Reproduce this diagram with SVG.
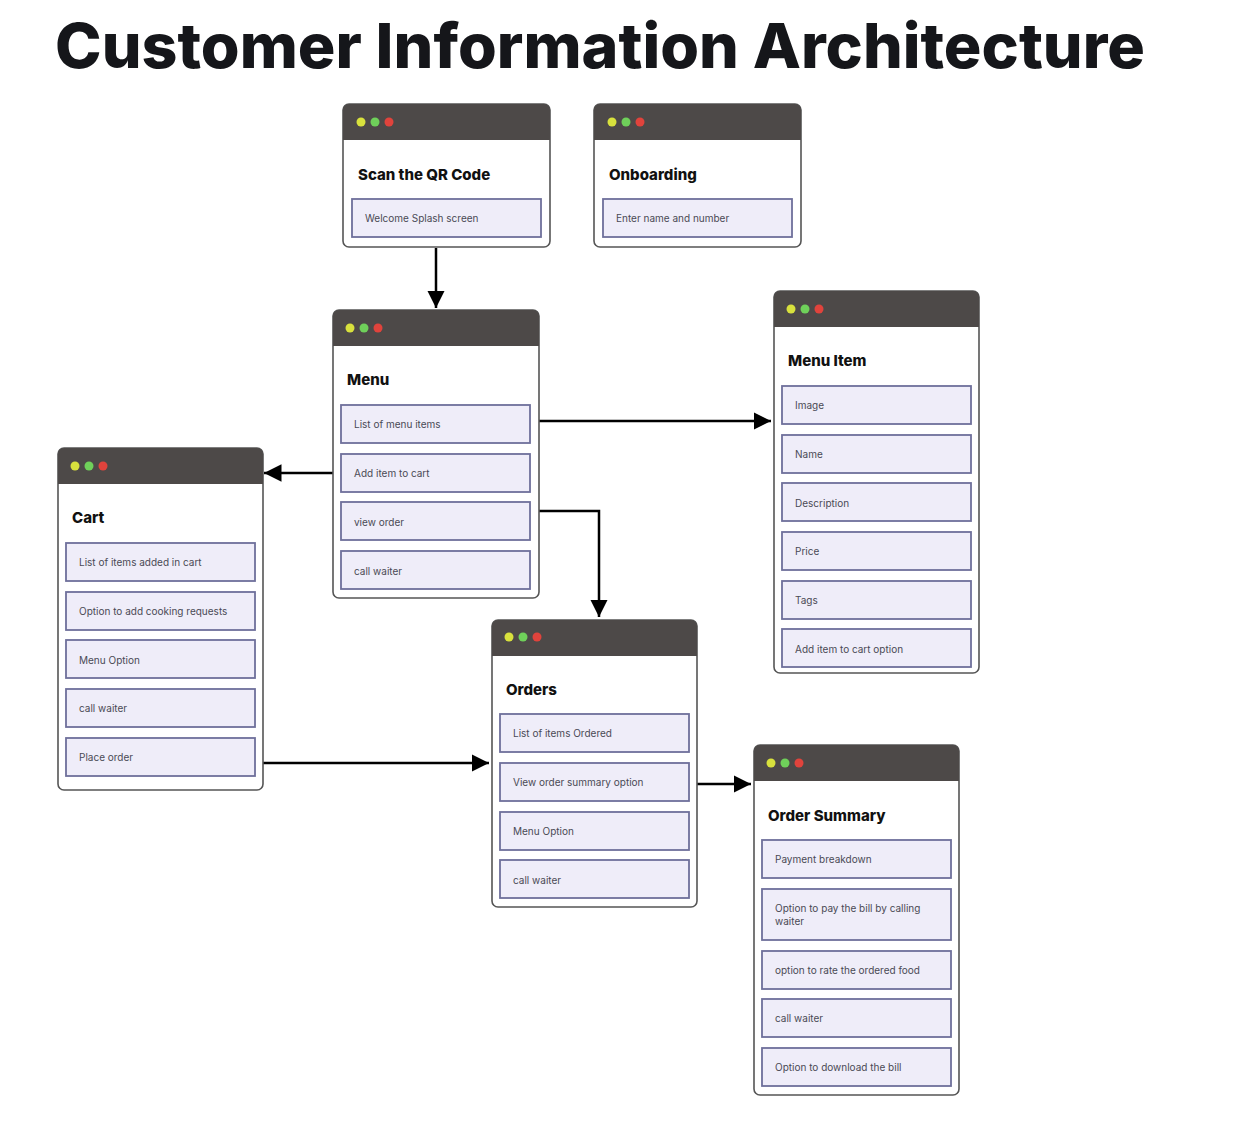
<svg xmlns="http://www.w3.org/2000/svg" width="1238" height="1132" viewBox="0 0 1238 1132">
<defs>
<style>
.win{fill:#fff;stroke:#555;stroke-width:1.6}
.hdr{fill:#4d4948}
.dy{fill:#d8e13d}.dg{fill:#6fd05a}.dr{fill:#e0433c}
.ttl{font-family:Inter,"Noto Sans",sans-serif;font-weight:800;font-size:15px;fill:#111}
.it{fill:#efedf9;stroke:#6e6f9b;stroke-width:1.8}
.itx{font-family:Inter,"Noto Sans",sans-serif;font-size:10px;fill:#4a4a55}
.cn{fill:none;stroke:#000;stroke-width:2.5}
</style>
<marker id="ah" viewBox="0 0 10 10" refX="10" refY="5" markerWidth="7" markerHeight="7" markerUnits="strokeWidth" orient="auto">
<path d="M0,0 L10,5 L0,10 z" fill="#000"/>
</marker>
</defs>
<rect width="1238" height="1132" fill="#fff"/>
<text x="55" y="68" font-family="Inter,'Noto Sans',sans-serif" font-weight="800" font-size="62" fill="#15161a" textLength="1090" lengthAdjust="spacingAndGlyphs">Customer Information Architecture</text>

<g id="connectors">
<path class="cn" d="M436,248 V308" marker-end="url(#ah)"/>
<path class="cn" d="M528,421 H771" marker-end="url(#ah)"/>
<path class="cn" d="M343,473 H264" marker-end="url(#ah)"/>
<path class="cn" d="M528,511 H599 V617" marker-end="url(#ah)"/>
<path class="cn" d="M255,763 H489" marker-end="url(#ah)"/>
<path class="cn" d="M689,784 H751" marker-end="url(#ah)"/>
</g>

<g id="scan-qr">
<rect class="win" x="343" y="104" width="207" height="143" rx="6"/>
<path class="hdr" d="M343,110 a6,6 0 0 1 6,-6 h195 a6,6 0 0 1 6,6 v30 h-207 z"/>
<circle class="dy" cx="361" cy="122" r="4.5"/><circle class="dg" cx="375" cy="122" r="4.5"/><circle class="dr" cx="389" cy="122" r="4.5"/>
<text class="ttl" x="358" y="180">Scan the QR Code</text>
<rect class="it" x="352" y="199" width="189" height="38"/>
<text class="itx" x="365" y="222">Welcome Splash screen</text>
</g>

<g id="onboarding">
<rect class="win" x="594" y="104" width="207" height="143" rx="6"/>
<path class="hdr" d="M594,110 a6,6 0 0 1 6,-6 h195 a6,6 0 0 1 6,6 v30 h-207 z"/>
<circle class="dy" cx="612" cy="122" r="4.5"/><circle class="dg" cx="626" cy="122" r="4.5"/><circle class="dr" cx="640" cy="122" r="4.5"/>
<text class="ttl" x="609" y="180">Onboarding</text>
<rect class="it" x="603" y="199" width="189" height="38"/>
<text class="itx" x="616" y="222">Enter name and number</text>
</g>

<g id="menu">
<rect class="win" x="333" y="310" width="206" height="288" rx="6"/>
<path class="hdr" d="M333,316 a6,6 0 0 1 6,-6 h194 a6,6 0 0 1 6,6 v30 h-206 z"/>
<circle class="dy" cx="350" cy="328" r="4.5"/><circle class="dg" cx="364" cy="328" r="4.5"/><circle class="dr" cx="378" cy="328" r="4.5"/>
<text class="ttl" x="347" y="385">Menu</text>
<rect class="it" x="341" y="405" width="189" height="38"/>
<text class="itx" x="354" y="428">List of menu items</text>
<rect class="it" x="341" y="454" width="189" height="38"/>
<text class="itx" x="354" y="477">Add item to cart</text>
<rect class="it" x="341" y="502" width="189" height="38"/>
<text class="itx" x="354" y="526">view order</text>
<rect class="it" x="341" y="551" width="189" height="38"/>
<text class="itx" x="354" y="575">call waiter</text>
</g>

<g id="menu-item">
<rect class="win" x="774" y="291" width="205" height="382" rx="6"/>
<path class="hdr" d="M774,297 a6,6 0 0 1 6,-6 h193 a6,6 0 0 1 6,6 v30 h-205 z"/>
<circle class="dy" cx="791" cy="309" r="4.5"/><circle class="dg" cx="805" cy="309" r="4.5"/><circle class="dr" cx="819" cy="309" r="4.5"/>
<text class="ttl" x="788" y="366">Menu Item</text>
<rect class="it" x="782" y="386" width="189" height="38"/>
<text class="itx" x="795" y="409">Image</text>
<rect class="it" x="782" y="435" width="189" height="38"/>
<text class="itx" x="795" y="458">Name</text>
<rect class="it" x="782" y="483" width="189" height="38"/>
<text class="itx" x="795" y="507">Description</text>
<rect class="it" x="782" y="532" width="189" height="38"/>
<text class="itx" x="795" y="555">Price</text>
<rect class="it" x="782" y="581" width="189" height="38"/>
<text class="itx" x="795" y="604">Tags</text>
<rect class="it" x="782" y="629" width="189" height="38"/>
<text class="itx" x="795" y="653">Add item to cart option</text>
</g>

<g id="cart">
<rect class="win" x="58" y="448" width="205" height="342" rx="6"/>
<path class="hdr" d="M58,454 a6,6 0 0 1 6,-6 h193 a6,6 0 0 1 6,6 v30 h-205 z"/>
<circle class="dy" cx="75" cy="466" r="4.5"/><circle class="dg" cx="89" cy="466" r="4.5"/><circle class="dr" cx="103" cy="466" r="4.5"/>
<text class="ttl" x="72" y="523">Cart</text>
<rect class="it" x="66" y="543" width="189" height="38"/>
<text class="itx" x="79" y="566">List of items added in cart</text>
<rect class="it" x="66" y="592" width="189" height="38"/>
<text class="itx" x="79" y="615">Option to add cooking requests</text>
<rect class="it" x="66" y="640" width="189" height="38"/>
<text class="itx" x="79" y="664">Menu Option</text>
<rect class="it" x="66" y="689" width="189" height="38"/>
<text class="itx" x="79" y="712">call waiter</text>
<rect class="it" x="66" y="738" width="189" height="38"/>
<text class="itx" x="79" y="761">Place order</text>
</g>

<g id="orders">
<rect class="win" x="492" y="620" width="205" height="287" rx="6"/>
<path class="hdr" d="M492,626 a6,6 0 0 1 6,-6 h193 a6,6 0 0 1 6,6 v30 h-205 z"/>
<circle class="dy" cx="509" cy="637" r="4.5"/><circle class="dg" cx="523" cy="637" r="4.5"/><circle class="dr" cx="537" cy="637" r="4.5"/>
<text class="ttl" x="506" y="695">Orders</text>
<rect class="it" x="500" y="714" width="189" height="38"/>
<text class="itx" x="513" y="737">List of items Ordered</text>
<rect class="it" x="500" y="763" width="189" height="38"/>
<text class="itx" x="513" y="786">View order summary option</text>
<rect class="it" x="500" y="812" width="189" height="38"/>
<text class="itx" x="513" y="835">Menu Option</text>
<rect class="it" x="500" y="860" width="189" height="38"/>
<text class="itx" x="513" y="884">call waiter</text>
</g>

<g id="order-summary">
<rect class="win" x="754" y="745" width="205" height="350" rx="6"/>
<path class="hdr" d="M754,751 a6,6 0 0 1 6,-6 h193 a6,6 0 0 1 6,6 v30 h-205 z"/>
<circle class="dy" cx="771" cy="763" r="4.5"/><circle class="dg" cx="785" cy="763" r="4.5"/><circle class="dr" cx="799" cy="763" r="4.5"/>
<text class="ttl" x="768" y="821">Order Summary</text>
<rect class="it" x="762" y="840" width="189" height="38"/>
<text class="itx" x="775" y="863">Payment breakdown</text>
<rect class="it" x="762" y="889" width="189" height="51"/>
<text class="itx" x="775" y="912">Option to pay the bill by calling</text>
<text class="itx" x="775" y="925">waiter</text>
<rect class="it" x="762" y="951" width="189" height="38"/>
<text class="itx" x="775" y="974">option to rate the ordered food</text>
<rect class="it" x="762" y="999" width="189" height="38"/>
<text class="itx" x="775" y="1022">call waiter</text>
<rect class="it" x="762" y="1048" width="189" height="38"/>
<text class="itx" x="775" y="1071">Option to download the bill</text>
</g>
</svg>
